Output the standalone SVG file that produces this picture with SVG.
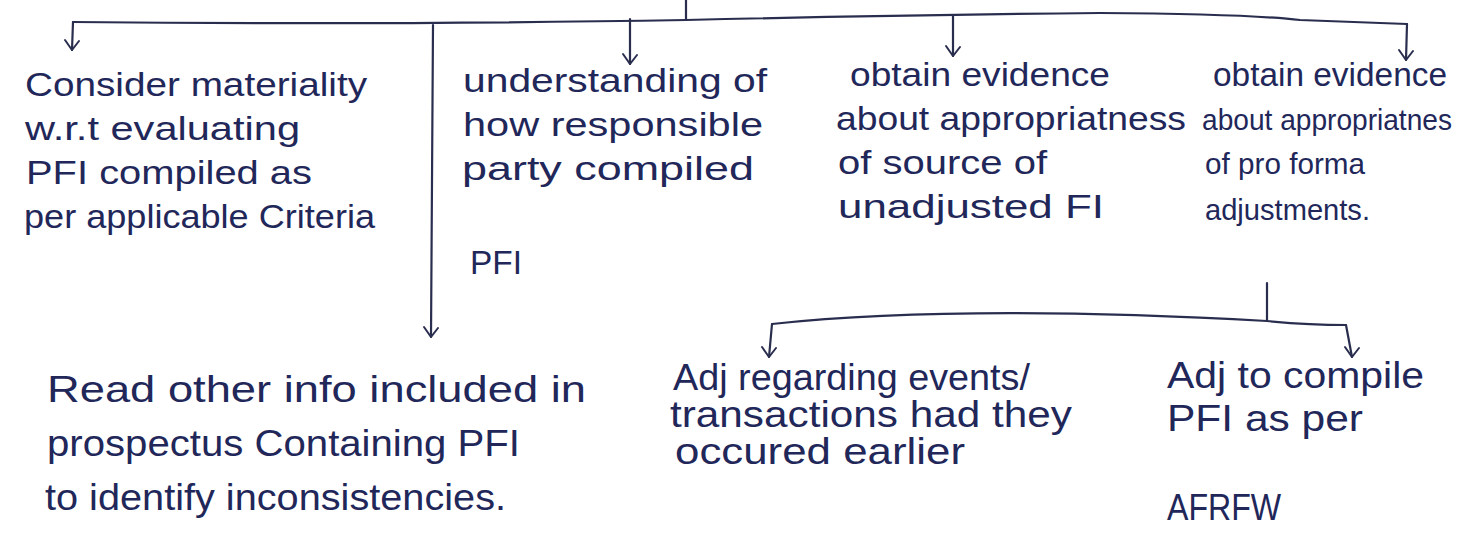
<svg xmlns="http://www.w3.org/2000/svg" width="1470" height="538" viewBox="0 0 1470 538">
  <defs>
    <marker id="arrd" viewBox="0 0 18 18" refX="9" refY="16" markerWidth="18" markerHeight="18" markerUnits="userSpaceOnUse" orient="0">
      <path d="M2 6 L9 16 L16 7" fill="none" stroke="#2a2e4e" stroke-width="2" stroke-linecap="round" stroke-linejoin="round"/>
    </marker>
  </defs>
  <style>
    .t { font-family: "Liberation Sans", "DejaVu Sans", sans-serif; font-size: 34px; fill: #22275a; }
    .ts { font-family: "Liberation Sans", "DejaVu Sans", sans-serif; font-size: 29px; fill: #22275a; }
    .tb { font-family: "Liberation Sans", "DejaVu Sans", sans-serif; font-size: 37px; fill: #22275a; }
    .ln { fill: none; stroke: #2a2e4e; stroke-width: 2.2; stroke-linecap: round; stroke-linejoin: round; }
  </style>
  <rect width="1470" height="538" fill="#ffffff"/>

  <g id="connectors">
    <path class="ln" d="M686 0 L686 19"/>
    <path class="ln" d="M73 22 Q400 25 686 20 Q900 15 1100 13 Q1250 14 1300 20 L1407 24"/>
    <path class="ln" d="M73 22 L72 50" marker-end="url(#arrd)"/>
    <path class="ln" d="M433 25 L431 337" marker-end="url(#arrd)"/>
    <path class="ln" d="M630 19 L630 64" marker-end="url(#arrd)"/>
    <path class="ln" d="M953 15 L953 56" marker-end="url(#arrd)"/>
    <path class="ln" d="M1407 24 L1406 60" marker-end="url(#arrd)"/>
    <path class="ln" d="M1267 283 L1267 321"/>
    <path class="ln" d="M772 324 Q960 304 1267 321 Q1310 325 1346 325"/>
    <path class="ln" d="M772 324 L769 357" marker-end="url(#arrd)"/>
    <path class="ln" d="M1346 325 L1352 357" marker-end="url(#arrd)"/>
  </g>

  <g id="n-materiality">
    <text class="t" x="25" y="96" textLength="342" lengthAdjust="spacingAndGlyphs">Consider materiality</text>
    <text class="t" x="25" y="140" textLength="275" lengthAdjust="spacingAndGlyphs">w.r.t evaluating</text>
    <text class="t" x="26" y="184" textLength="286" lengthAdjust="spacingAndGlyphs">PFI compiled as</text>
    <text class="t" x="24" y="228" textLength="351" lengthAdjust="spacingAndGlyphs">per applicable Criteria</text>
  </g>

  <g id="n-understanding">
    <text class="t" x="463" y="92" textLength="304" lengthAdjust="spacingAndGlyphs">understanding of</text>
    <text class="t" x="463" y="136" textLength="300" lengthAdjust="spacingAndGlyphs">how responsible</text>
    <text class="t" x="462" y="180" textLength="292" lengthAdjust="spacingAndGlyphs">party compiled</text>
    <text class="t" x="470" y="274" textLength="52" lengthAdjust="spacingAndGlyphs">PFI</text>
  </g>

  <g id="n-source">
    <text class="t" x="850" y="86" textLength="260" lengthAdjust="spacingAndGlyphs">obtain evidence</text>
    <text class="t" x="836" y="130" textLength="350" lengthAdjust="spacingAndGlyphs">about appropriatness</text>
    <text class="t" x="838" y="174" textLength="209" lengthAdjust="spacingAndGlyphs">of source of</text>
    <text class="t" x="838" y="218" textLength="266" lengthAdjust="spacingAndGlyphs">unadjusted FI</text>
  </g>

  <g id="n-adjustments">
    <text class="t" x="1213" y="86" textLength="234" lengthAdjust="spacingAndGlyphs">obtain evidence</text>
    <text class="ts" x="1202" y="130" textLength="250" lengthAdjust="spacingAndGlyphs">about appropriatnes</text>
    <text class="ts" x="1205" y="174" textLength="160" lengthAdjust="spacingAndGlyphs">of pro forma</text>
    <text class="ts" x="1205" y="220" textLength="165" lengthAdjust="spacingAndGlyphs">adjustments.</text>
  </g>

  <g id="n-read">
    <text class="tb" x="47" y="402" textLength="539" lengthAdjust="spacingAndGlyphs">Read other info included in</text>
    <text class="tb" x="47" y="456" textLength="473" lengthAdjust="spacingAndGlyphs">prospectus Containing PFI</text>
    <text class="tb" x="45" y="510" textLength="461" lengthAdjust="spacingAndGlyphs">to identify inconsistencies.</text>
  </g>

  <g id="n-events">
    <text class="tb" x="673" y="390" textLength="357" lengthAdjust="spacingAndGlyphs">Adj regarding events/</text>
    <text class="tb" x="670" y="427" textLength="402" lengthAdjust="spacingAndGlyphs">transactions had they</text>
    <text class="tb" x="675" y="464" textLength="290" lengthAdjust="spacingAndGlyphs">occured earlier</text>
  </g>

  <g id="n-compile">
    <text class="tb" x="1167" y="388" textLength="257" lengthAdjust="spacingAndGlyphs">Adj to compile</text>
    <text class="tb" x="1167" y="431" textLength="196" lengthAdjust="spacingAndGlyphs">PFI as per</text>
    <text class="tb" x="1167" y="520" textLength="114" lengthAdjust="spacingAndGlyphs">AFRFW</text>
  </g>
</svg>
